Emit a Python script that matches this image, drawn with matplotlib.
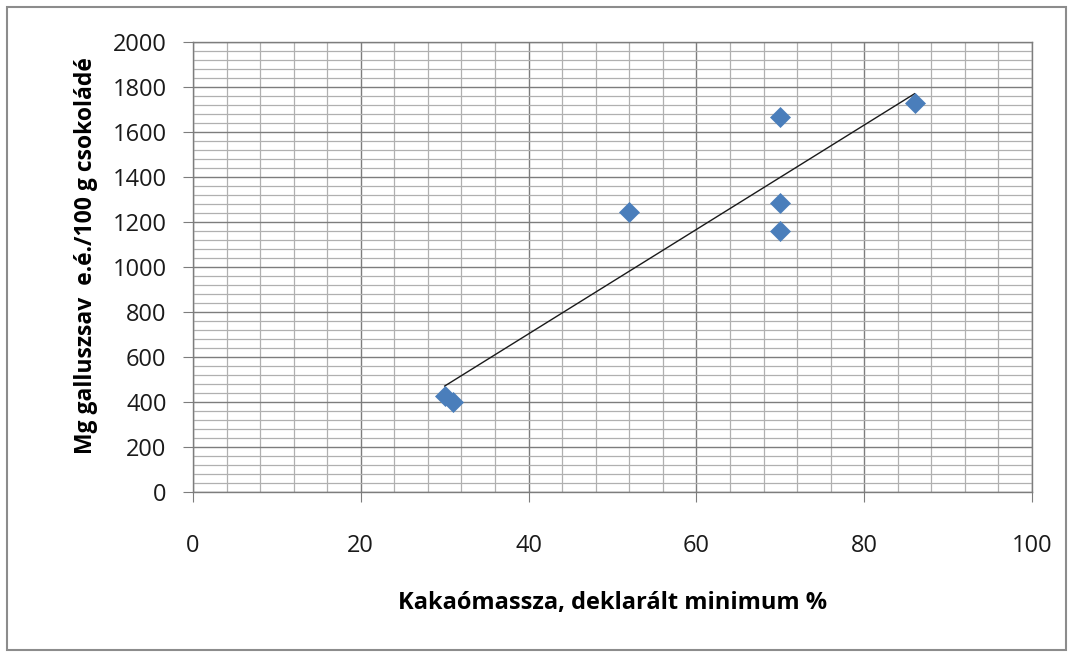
import matplotlib.pyplot as plt
from matplotlib.patches import Rectangle
from matplotlib.ticker import MultipleLocator
import numpy as np

# kakaómassza (deklarált minimum %) és galluszsav-egyenérték (mg / 100 g)
cocoa = [30, 31, 52, 70, 70, 70, 86]
gallic = [428, 400, 1245, 1665, 1285, 1160, 1730]

x_ticks = [0, 20, 40, 60, 80, 100]
y_ticks = [0, 200, 400, 600, 800, 1000, 1200, 1400, 1600, 1800, 2000]

plt.rcParams['font.family'] = ['Open Sans', 'DejaVu Sans']

fig = plt.figure(figsize=(10.74, 6.52), dpi=100)
fig.patches.append(Rectangle((7 / 1074, 2 / 652), 1059 / 1074, 643 / 652,
                             transform=fig.transFigure, fill=False,
                             edgecolor='#8c8c8c', linewidth=1.5))

ax = fig.add_axes([193 / 1074, 1 - 492 / 652, 839 / 1074, 450 / 652])

# linear trendline through the measured points
slope, intercept = np.polyfit(cocoa, gallic, 1)
xs = np.array([min(cocoa), max(cocoa)])
ax.plot(xs, slope * xs + intercept, color='#1a1a1a', linewidth=1.0, zorder=3)

ax.plot(cocoa, gallic, linestyle='none', marker='D', markersize=10.5,
        color='#4a7ebb', markeredgecolor='#4a7ebb', markeredgewidth=0.5, zorder=4)

ax.set_xlim(0, 100)
ax.set_ylim(0, 2000)
ax.set_xticks(x_ticks)
ax.set_yticks(y_ticks)
ax.xaxis.set_minor_locator(MultipleLocator(4))
ax.yaxis.set_minor_locator(MultipleLocator(40))

ax.grid(which='major', color='#7d7d7d', linewidth=1.0)
ax.grid(which='minor', color='#b0b0b0', linewidth=0.9)
ax.set_axisbelow(True)
for s in ax.spines.values():
    s.set_color('#7d7d7d')
    s.set_linewidth(1.0)

ax.tick_params(which='major', direction='out', length=7, color='#7d7d7d',
               labelsize=17, labelcolor='#1a1a1a')
ax.tick_params(axis='x', which='major', pad=23)
ax.tick_params(axis='y', which='major', pad=12)
ax.tick_params(which='minor', length=0)

ax.set_ylabel('Mg galluszsav  e.é./100 g csokoládé', fontsize=16.5, fontweight='bold')
ax.set_xlabel('Kakaómassza, deklarált minimum %', fontsize=17, fontweight='bold')
ax.yaxis.set_label_coords(-0.113, 0.525)
ax.xaxis.set_label_coords(0.5, -0.22)

fig.savefig('out.png', dpi=100)
